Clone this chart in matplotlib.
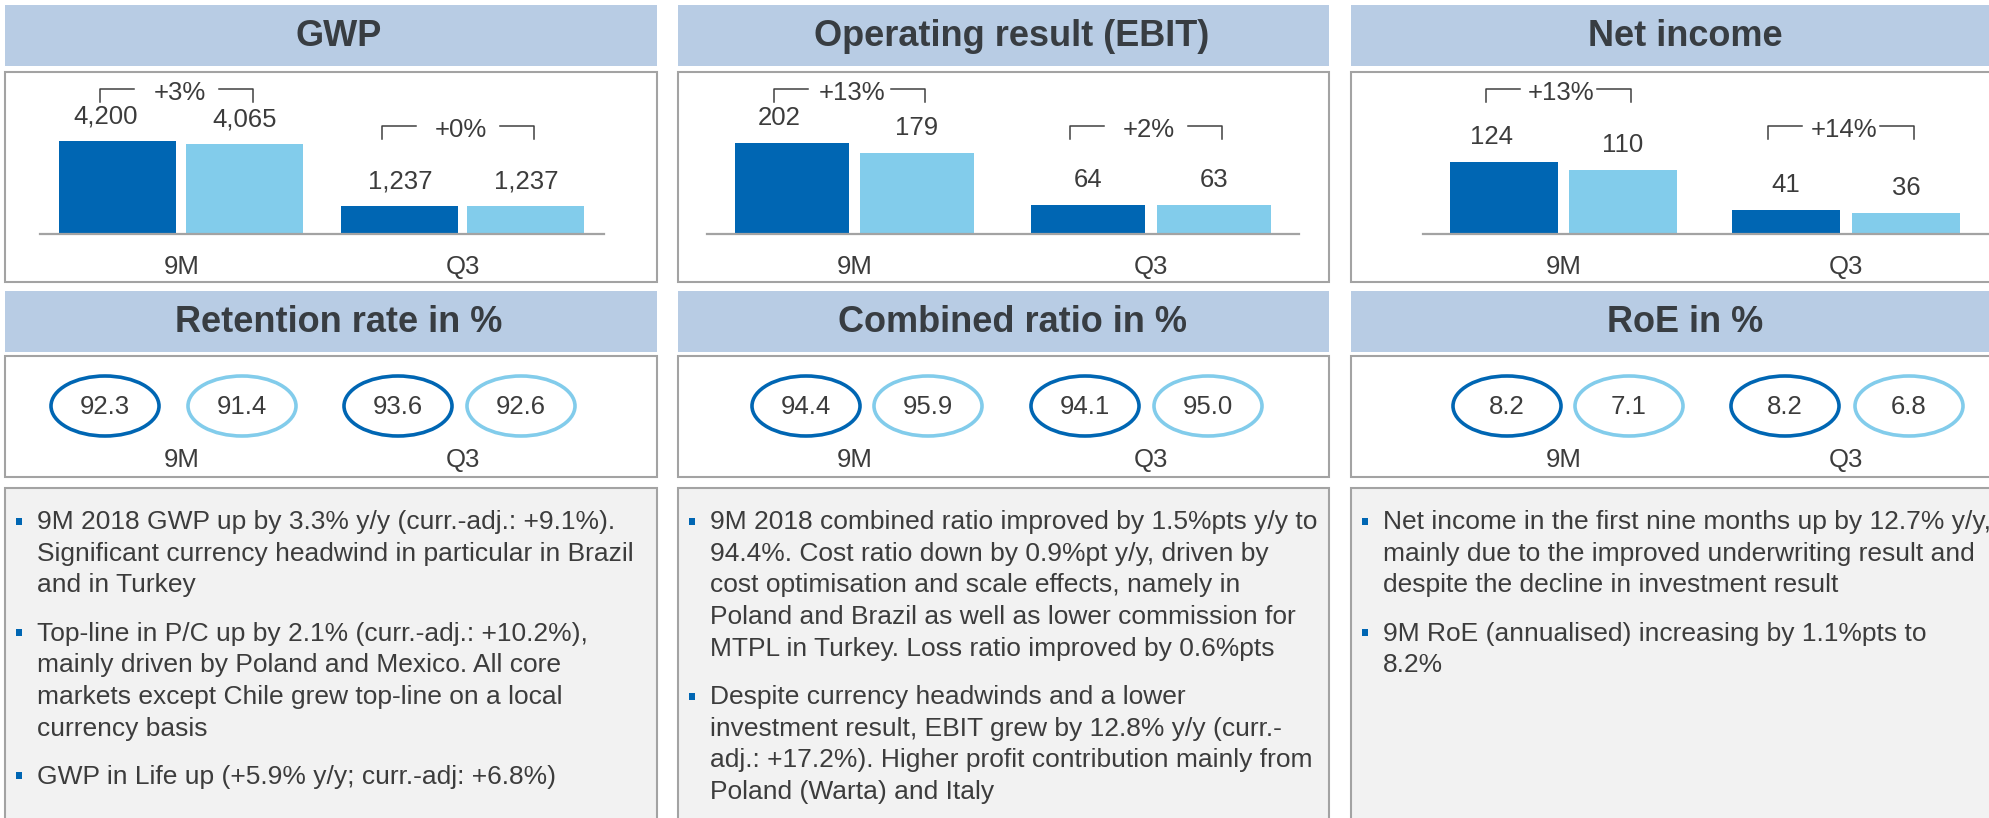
import matplotlib
matplotlib.use("Agg")
import matplotlib.pyplot as plt
from matplotlib.patches import Rectangle, Ellipse

plt.rcParams['font.family'] = ['Liberation Sans', 'DejaVu Sans']

# ---------------- data ----------------
periods = ["9M", "Q3"]

gwp_cur = [4200, 1237]
gwp_prev = [4065, 1237]
gwp_growth = ["+3%", "+0%"]

ebit_cur = [202, 64]
ebit_prev = [179, 63]
ebit_growth = ["+13%", "+2%"]

ni_cur = [124, 41]
ni_prev = [110, 36]
ni_growth = ["+13%", "+14%"]

retention_cur = [92.3, 93.6]
retention_prev = [91.4, 92.6]
cr_cur = [94.4, 94.1]
cr_prev = [95.9, 95.0]
roe_cur = [8.2, 8.2]
roe_prev = [7.1, 6.8]

titles_top = ["GWP", "Operating result (EBIT)", "Net income"]
titles_mid = ["Retention rate in %", "Combined ratio in %", "RoE in %"]

bullets_gwp = [
    ["9M 2018 GWP up by 3.3% y/y (curr.-adj.: +9.1%).",
     "Significant currency headwind in particular in Brazil",
     "and in Turkey"],
    ["Top-line in P/C up by 2.1% (curr.-adj.: +10.2%),",
     "mainly driven by Poland and Mexico. All core",
     "markets except Chile grew top-line on a local",
     "currency basis"],
    ["GWP in Life up (+5.9% y/y; curr.-adj: +6.8%)"],
]
bullets_cr = [
    ["9M 2018 combined ratio improved by 1.5%pts y/y to",
     "94.4%. Cost ratio down by 0.9%pt y/y, driven by",
     "cost optimisation and scale effects, namely in",
     "Poland and Brazil as well as lower commission for",
     "MTPL in Turkey. Loss ratio improved by 0.6%pts"],
    ["Despite currency headwinds and a lower",
     "investment result, EBIT grew by 12.8% y/y (curr.-",
     "adj.: +17.2%). Higher profit contribution mainly from",
     "Poland (Warta) and Italy"],
]
bullets_ni = [
    ["Net income in the first nine months up by 12.7% y/y,",
     "mainly due to the improved underwriting result and",
     "despite the decline in investment result"],
    ["9M RoE (annualised) increasing by 1.1%pts to",
     "8.2%"],
]

# ---------------- style ----------------
W, H = 1990, 818
DARK = "#0066B3"
LIGHT = "#82CCEB"
HEAD_BG = "#B8CCE4"
HEAD_TXT = "#383D42"
TXT = "#3C3C3C"
BORDER = "#A3A3A3"
BOX_BG = "#F2F2F2"
FS = 18.5
FS_B = 19

fig = plt.figure(figsize=(W / 100, H / 100), dpi=100)
bg = fig.add_axes([0, 0, 1, 1])
bg.set_xlim(0, W)
bg.set_ylim(H, 0)
bg.axis('off')

cols = [
    dict(left=5, w=652, ax_left=40, ax_w=564, bars=[78, 205, 360, 486], bw=117, ymax=7350,
         cur=gwp_cur, prev=gwp_prev, growth=gwp_growth, fmt="{:,.0f}",
         ell=[105, 242, 398, 521], ecur=retention_cur, eprev=retention_prev, bullets=bullets_gwp),
    dict(left=678, w=651, ax_left=707, ax_w=592, bars=[85, 210, 381, 507], bw=114, ymax=361,
         cur=ebit_cur, prev=ebit_prev, growth=ebit_growth, fmt="{:,.0f}",
         ell=[806, 928, 1085, 1208], ecur=cr_cur, eprev=cr_prev, bullets=bullets_cr),
    dict(left=1351, w=652, ax_left=1423, ax_w=592, bars=[81, 200, 363, 483], bw=108, ymax=281,
         cur=ni_cur, prev=ni_prev, growth=ni_growth, fmt="{:,.0f}",
         ell=[1507, 1629, 1785, 1909], ecur=roe_cur, eprev=roe_prev, bullets=bullets_ni),
]

BASE = 233.5
TOP = 72
bracket_y = [89, 126]

for i, c in enumerate(cols):
    L, w = c["left"], c["w"]
    # headers
    bg.add_patch(Rectangle((L, 5), w, 61, fc=HEAD_BG, ec='none', zorder=1))
    bg.text(L + 334, 37, titles_top[i], ha='center', va='center', fontsize=26,
            fontweight='bold', color=HEAD_TXT, zorder=3)
    bg.add_patch(Rectangle((L, 291), w, 61, fc=HEAD_BG, ec='none', zorder=1))
    bg.text(L + 334, 323, titles_mid[i], ha='center', va='center', fontsize=26,
            fontweight='bold', color=HEAD_TXT, zorder=3)
    # panels
    bg.add_patch(Rectangle((L, 72), w, 210, fc='white', ec=BORDER, lw=1.5, zorder=1))
    bg.add_patch(Rectangle((L, 356), w, 121, fc='white', ec=BORDER, lw=1.5, zorder=1))
    bg.add_patch(Rectangle((L, 488), w, 360, fc=BOX_BG, ec=BORDER, lw=1.5, zorder=1))

    # bar chart
    al, aw = c["ax_left"], c["ax_w"]
    ax = fig.add_axes([al / W, (H - BASE) / H, aw / W, (BASE - TOP) / H])
    ax.patch.set_alpha(0)
    ax.set_xlim(0, aw)
    ax.set_ylim(0, c["ymax"])
    x0, x1, x2, x3 = c["bars"]
    ax.bar([x0, x2], c["cur"], width=c["bw"], color=DARK, zorder=2)
    ax.bar([x1, x3], c["prev"], width=c["bw"], color=LIGHT, zorder=2)
    for s in ["top", "left", "right"]:
        ax.spines[s].set_visible(False)
    ax.spines["bottom"].set_color(BORDER)
    ax.spines["bottom"].set_linewidth(1.6)
    ax.set_yticks([])
    gcent = [(x0 + x1) / 2, (x2 + x3) / 2]
    ax.set_xticks(gcent, periods)
    ax.tick_params(axis='x', length=0, pad=15.5, labelsize=FS, labelcolor=TXT)
    for k, (xc, v) in enumerate(zip([x0, x2], c["cur"])):
        dx = -9 if k == 0 else 0
        ax.annotate(c["fmt"].format(v), (xc, v), xytext=(dx, 18), textcoords='offset points',
                    ha='center', va='center', fontsize=FS, color=TXT, annotation_clip=False)
    for xc, v in zip([x1, x3], c["prev"]):
        ax.annotate(c["fmt"].format(v), (xc, v), xytext=(0, 18), textcoords='offset points',
                    ha='center', va='center', fontsize=FS, color=TXT, annotation_clip=False)

    # growth brackets
    for g, (xa, xb) in enumerate([(x0, x1), (x2, x3)]):
        bl = al + xa - 18
        br = al + xb + 8
        yt = bracket_y[g]
        bg.plot([bl, bl, bl + 34], [yt + 13, yt, yt], color="#404040", lw=1.1, zorder=3)
        bg.plot([br - 34, br, br], [yt, yt, yt + 13], color="#404040", lw=1.1, zorder=3)
        bg.text((bl + br) / 2 + 3, yt + 4, c["growth"][g], ha='center', va='center',
                fontsize=FS, color=TXT, zorder=4)

    # ellipse row
    evals = [c["ecur"][0], c["eprev"][0], c["ecur"][1], c["eprev"][1]]
    ecols = [DARK, LIGHT, DARK, LIGHT]
    for ex, ev, ec in zip(c["ell"], evals, ecols):
        bg.add_patch(Ellipse((ex, 406), 108, 60, fc='white', ec=ec, lw=2.6, zorder=3))
        bg.text(ex, 407, "{:.1f}".format(ev), ha='center', va='center', fontsize=FS,
                color=TXT, zorder=4)
    for gc, p in zip(gcent, periods):
        bg.text(al + gc, 460, p, ha='center', va='center', fontsize=FS, color=TXT, zorder=4)

    # bullet text
    y = 522
    for para in c["bullets"]:
        bg.add_patch(Rectangle((L + 11, y - 4.5), 6, 7, fc=DARK, ec='none', zorder=3))
        for line in para:
            bg.text(L + 32, y, line, ha='left', va='center', fontsize=FS_B, color=TXT, zorder=4)
            y += 31.7
        y += 16.5

fig.savefig("out.png", dpi=100)
